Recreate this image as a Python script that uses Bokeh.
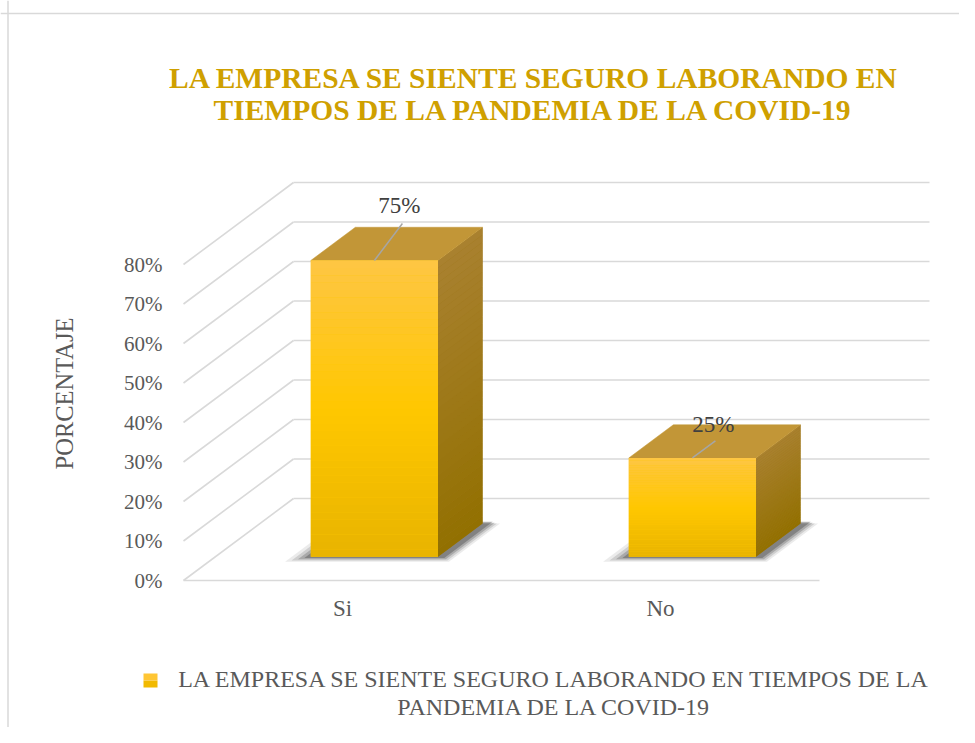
import math
from bokeh.plotting import figure
from bokeh.models import (Range1d, LinearAxis, FixedTicker, NumeralTickFormatter,
                          ColumnDataSource, Label, Span)
from bokeh.embed import file_html
from bokeh.resources import INLINE

# ---------------- data ----------------
title_lines = ["LA EMPRESA SE SIENTE SEGURO LABORANDO EN",
               "TIEMPOS DE LA PANDEMIA DE LA COVID-19"]
categories = ["Si", "No"]
values = [0.75, 0.25]
value_labels = ["75%", "25%"]
y_ticks = [0.0, 0.1, 0.2, 0.3, 0.4, 0.5, 0.6, 0.7, 0.8]
y_axis_title = "PORCENTAJE"
legend_lines = ["LA EMPRESA SE SIENTE SEGURO LABORANDO EN TIEMPOS DE LA",
                "PANDEMIA DE LA COVID-19"]

# ---------------- layout / style ----------------
W, H = 959, 727
SX, SY = 318.0, 395.0          # pixels per data unit
ORIG_X, ORIG_Y = 183, 580       # canvas position of data origin (front-left floor corner)
X0 = -ORIG_X / SX
Y0 = -(H - ORIG_Y) / SY
DX = 110 / SX                   # full depth offset (x)
DY = 82 / SY                    # full depth offset (y)
HALF_W = 0.2                    # half bar width (category units)
D_FRONT, D_BACK = 0.29, 0.695   # bar depth position
FONT = "Liberation Serif"
GRID = "#D9D9D9"


def px(x):
    return X0 + x / SX


def py(y):
    return Y0 + (H - y) / SY


def hex2rgb(h):
    h = h.lstrip("#")
    return tuple(int(h[i:i + 2], 16) for i in (0, 2, 4))


def mix(c1, c2, t):
    a, b = hex2rgb(c1), hex2rgb(c2)
    return "#%02x%02x%02x" % tuple(int(round(a[i] + (b[i] - a[i]) * t)) for i in range(3))


def front_color(t):
    if t < 0.5:
        return mix("#E8B400", "#FFC700", t / 0.5)
    return mix("#FFC700", "#FEC644", (t - 0.5) / 0.5)


def side_color(t):
    return mix("#927000", "#A98130", t)


p = figure(width=W, height=H, output_backend="svg", toolbar_location=None,
           x_range=Range1d(X0, X0 + W / SX), y_range=Range1d(Y0, Y0 + H / SY),
           x_axis_type=None, y_axis_type=None, min_border=0,
           background_fill_color="white", border_fill_color="white")
p.outline_line_color = None
p.xgrid.visible = False
p.ygrid.visible = False

# chart-area border (top and left)
p.add_layout(Span(location=py(13), dimension="width", line_color=GRID, line_width=1.5))
p.add_layout(Span(location=px(7.5), dimension="height", line_color=GRID, line_width=1.5))

# ---------------- walls / gridlines ----------------
n_cat = len(categories)
diag = ColumnDataSource(dict(x0=[0.0] * len(y_ticks), y0=y_ticks,
                             x1=[DX] * len(y_ticks), y1=[t + DY for t in y_ticks]))
p.segment("x0", "y0", "x1", "y1", source=diag, line_color=GRID, line_width=1.6)
back = ColumnDataSource(dict(x0=[DX] * len(y_ticks), y0=[t + DY for t in y_ticks],
                             x1=[n_cat + DX] * len(y_ticks), y1=[t + DY for t in y_ticks]))
p.segment("x0", "y0", "x1", "y1", source=back, line_color=GRID, line_width=1.6)
p.segment(x0=[0], y0=[0], x1=[n_cat], y1=[0], line_color=GRID, line_width=1.6)

centers = [i + 0.5 for i in range(n_cat)]

# ---------------- bars ----------------
N = 40
for c, v in zip(centers, values):
    xl_f = c - HALF_W + D_FRONT * DX
    xr_f = c + HALF_W + D_FRONT * DX
    xl_b = c - HALF_W + D_BACK * DX
    xr_b = c + HALF_W + D_BACK * DX
    yb_f = D_FRONT * DY
    yb_b = D_BACK * DY

    # soft floor shadow
    for gl, gr, df, db, alpha in ((0.06, 0.055, 0.06, 0.0, 0.10),
                                  (0.045, 0.045, 0.045, 0.0, 0.16),
                                  (0.03, 0.035, 0.03, 0.01, 0.25),
                                  (0.015, 0.025, 0.015, 0.02, 0.35)):
        f = D_FRONT - df
        b = D_BACK + db
        sx = [c - HALF_W - gl + f * DX, c + HALF_W + gr + f * DX,
              c + HALF_W + gr + b * DX, c - HALF_W - gl + b * DX]
        sy = [f * DY, f * DY, b * DY, b * DY]
        p.patch(sx, sy, fill_color="#3A3A3A", fill_alpha=alpha, line_color=None)

    # side face: base + gradient strips
    p.patch([xr_f, xr_b, xr_b, xr_f], [yb_f, yb_b, v + yb_b, v + yb_f],
            fill_color=side_color(0.5), line_color=None)
    xs_side, ys_side, col_side = [], [], []
    for k in range(N):
        a, b = v * k / N, v * (k + 1) / N
        xs_side.append([xr_f, xr_b, xr_b, xr_f])
        ys_side.append([a + yb_f, a + yb_b, b + yb_b, b + yb_f])
        col_side.append(side_color((k + 0.5) / N))
    p.patches(xs_side, ys_side, fill_color=col_side, line_color=None)

    # top face
    p.patch([xl_f, xr_f, xr_b, xl_b], [v + yb_f, v + yb_f, v + yb_b, v + yb_b],
            fill_color="#C29637", line_color="#C29637", line_width=0.5)

    # front face: base + gradient strips
    p.quad(left=[xl_f], right=[xr_f], bottom=[yb_f], top=[v + yb_f],
           fill_color=front_color(0.5), line_color=None)
    bots = [yb_f + v * k / N for k in range(N)]
    tops = [yb_f + v * (k + 1) / N for k in range(N)]
    cols = [front_color((k + 0.5) / N) for k in range(N)]
    p.quad(left=[xl_f] * N, right=[xr_f] * N, bottom=bots, top=tops,
           fill_color=cols, line_color=None)

# ---------------- data labels with leader lines ----------------
label_off = [(25, -55), (21, -33)]     # pixel offsets of label centre from bar front-top centre
leader_off = [(28, -37), (23, -17)]    # pixel offsets of leader end
for c, v, txt, lo, le in zip(centers, values, value_labels, label_off, leader_off):
    fx = c + D_FRONT * DX
    fy = v + D_FRONT * DY
    p.segment(x0=[fx], y0=[fy], x1=[fx + le[0] / SX], y1=[fy - le[1] / SY],
              line_color="#A6A6A6", line_width=1.5)
    p.add_layout(Label(x=fx + lo[0] / SX, y=fy - lo[1] / SY, text=txt,
                       text_font=FONT, text_font_size="23px", text_color="#404040",
                       text_align="center", text_baseline="middle"))

# ---------------- axes ----------------
yaxis = LinearAxis(fixed_location=0, ticker=FixedTicker(ticks=y_ticks),
                   formatter=NumeralTickFormatter(format="0%"))
yaxis.axis_line_color = None
yaxis.major_tick_line_color = None
yaxis.minor_tick_line_color = None
yaxis.major_tick_out = 0
yaxis.major_tick_in = 0
yaxis.major_label_standoff = 21
yaxis.major_label_text_font = FONT
yaxis.major_label_text_font_size = "21px"
yaxis.major_label_text_color = "#595959"
p.add_layout(yaxis, "left")

xaxis = LinearAxis(fixed_location=0, ticker=FixedTicker(ticks=centers),
                   major_label_overrides={c: cat for c, cat in zip(centers, categories)})
xaxis.axis_line_color = None
xaxis.major_tick_line_color = None
xaxis.minor_tick_line_color = None
xaxis.major_tick_out = 0
xaxis.major_tick_in = 0
xaxis.major_label_standoff = 15
xaxis.major_label_text_font = FONT
xaxis.major_label_text_font_size = "23px"
xaxis.major_label_text_color = "#595959"
p.add_layout(xaxis, "below")

p.add_layout(Label(x=px(64), y=py(393), text=y_axis_title, angle=math.pi / 2,
                   text_font=FONT, text_font_size="24.5px", text_color="#595959",
                   text_align="center", text_baseline="middle"))

# ---------------- title ----------------
for line, yy in zip(title_lines, (77, 109)):
    p.add_layout(Label(x=px(534), y=py(yy), text=line, text_font=FONT,
                       text_font_size="29.5px", text_font_style="bold", text_color="#CFA000",
                       text_align="center", text_baseline="middle"))

# ---------------- legend ----------------
p.quad(left=[px(143)], right=[px(157)], bottom=[py(687)], top=[py(680)],
       fill_color="#F2BA00", line_color=None)
p.quad(left=[px(143)], right=[px(157)], bottom=[py(680)], top=[py(673)],
       fill_color="#FFC634", line_color=None)
for line, yy in zip(legend_lines, (678, 706)):
    p.add_layout(Label(x=px(554), y=py(yy), text=line, text_font=FONT,
                       text_font_size="24px", text_color="#595959",
                       text_align="center", text_baseline="middle"))

open("out.html", "w").write(file_html(p, INLINE))
